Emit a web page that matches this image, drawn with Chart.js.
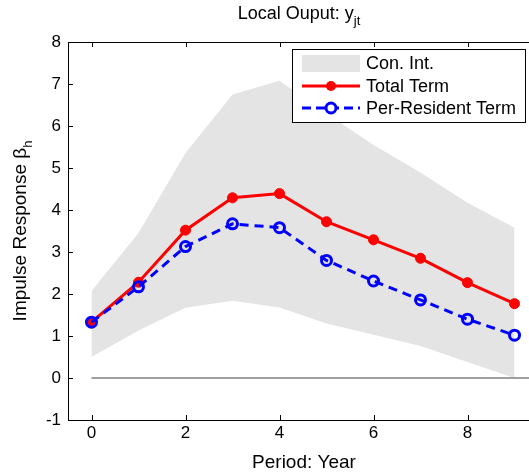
<!DOCTYPE html>
<html>
<head>
<meta charset="utf-8">
<script src="https://cdn.jsdelivr.net/npm/chart.js@4/dist/chart.umd.min.js"></script>
<style>
  html, body { margin: 0; padding: 0; background: #fff; overflow: hidden; }
  #wrap { width: 529px; height: 475px; overflow: hidden; }
  canvas { display: block; }
</style>
</head>
<body>
<div id="wrap"><canvas id="c" width="560" height="475"></canvas></div>
<script>
// Impulse response of local output, by period (years)
const periods = [0, 1, 2, 3, 4, 5, 6, 7, 8, 9];
const totalTerm = [1.33, 2.28, 3.52, 4.29, 4.39, 3.72, 3.29, 2.85, 2.27, 1.77];
const perResidentTerm = [1.33, 2.17, 3.13, 3.67, 3.58, 2.80, 2.31, 1.86, 1.40, 1.02];
const confUpper = [2.07, 3.45, 5.36, 6.75, 7.08, 6.30, 5.55, 4.89, 4.17, 3.58];
const confLower = [0.50, 1.13, 1.67, 1.84, 1.68, 1.30, 1.03, 0.76, 0.38, 0.00];
const xTicks = [0, 2, 4, 6, 8];
const yTicks = [-1, 0, 1, 2, 3, 4, 5, 6, 7, 8];
const legendLabels = ['Con. Int.', 'Total Term', 'Per-Resident Term'];

const FONT = '"Liberation Sans", Arial, sans-serif';
const pts = vals => periods.map((p, i) => ({ x: p, y: vals[i] }));

const bandColor = '#e4e4e4';
const red = '#ff0000';
const blue = '#0000ff';

// Inside tick marks, boxed frame, title, axis labels and legend
const decorations = {
  id: 'decorations',
  afterDraw(chart) {
    const ctx = chart.ctx;
    const a = chart.chartArea;
    const xs = chart.scales.x, ys = chart.scales.y;
    ctx.save();
    // frame
    ctx.strokeStyle = '#000';
    ctx.lineWidth = 1;
    ctx.strokeRect(Math.round(a.left) + 0.5, Math.round(a.top) + 0.5,
                   Math.round(a.right - a.left), Math.round(a.bottom - a.top));
    // inside ticks
    const tl = 5;
    ctx.beginPath();
    xTicks.forEach(v => {
      const px = Math.round(xs.getPixelForValue(v)) + 0.5;
      ctx.moveTo(px, a.bottom); ctx.lineTo(px, a.bottom - tl);
      ctx.moveTo(px, a.top); ctx.lineTo(px, a.top + tl);
    });
    yTicks.forEach(v => {
      const py = Math.round(ys.getPixelForValue(v)) + 0.5;
      ctx.moveTo(a.left, py); ctx.lineTo(a.left + tl, py);
      ctx.moveTo(a.right, py); ctx.lineTo(a.right - tl, py);
    });
    ctx.stroke();

    ctx.fillStyle = '#000';
    ctx.textBaseline = 'alphabetic';

    // title with subscript
    const tMain = 'Local Ouput: y', tSub = 'jt';
    ctx.font = '18px ' + FONT;
    const w1 = ctx.measureText(tMain).width;
    ctx.font = '13px ' + FONT;
    const w2 = ctx.measureText(tSub).width;
    const tx = 299 - (w1 + w2) / 2;
    ctx.font = '18px ' + FONT;
    ctx.textAlign = 'left';
    ctx.fillText(tMain, tx, 19);
    ctx.font = '13px ' + FONT;
    ctx.fillText(tSub, tx + w1, 25);

    // x axis label
    ctx.font = '19px ' + FONT;
    ctx.textAlign = 'center';
    ctx.fillText('Period: Year', 304, 468);

    // y axis label, rotated, with subscript
    const yMain = 'Impulse Response \u03B2', ySub = 'h';
    ctx.font = '19px ' + FONT;
    const yw1 = ctx.measureText(yMain).width;
    ctx.font = '13px ' + FONT;
    const yw2 = ctx.measureText(ySub).width;
    ctx.translate(25.5, 231);
    ctx.rotate(-Math.PI / 2);
    ctx.textAlign = 'left';
    const y0 = -(yw1 + yw2) / 2;
    ctx.font = '19px ' + FONT;
    ctx.fillText(yMain, y0, 0);
    ctx.font = '13px ' + FONT;
    ctx.fillText(ySub, y0 + yw1, 6);
    ctx.setTransform(1, 0, 0, 1, 0, 0);

    // legend
    const lx = 292, ly = 49, lw = 233, lh = 73;
    ctx.fillStyle = '#fff';
    ctx.fillRect(lx, ly, lw, lh);
    ctx.strokeStyle = '#000';
    ctx.lineWidth = 1;
    ctx.strokeRect(lx + 0.5, ly + 0.5, lw, lh);
    const sx0 = 302, sx1 = 360, mx = 331, textX = 366;
    const rows = [63, 86, 108];
    // band patch
    ctx.fillStyle = bandColor;
    ctx.fillRect(sx0, rows[0] - 8, sx1 - sx0, 17);
    // total term sample
    ctx.strokeStyle = red; ctx.lineWidth = 3;
    ctx.beginPath(); ctx.moveTo(sx0, rows[1]); ctx.lineTo(sx1, rows[1]); ctx.stroke();
    ctx.fillStyle = red;
    ctx.beginPath(); ctx.arc(mx, rows[1], 5, 0, Math.PI * 2); ctx.fill();
    // per-resident sample
    ctx.strokeStyle = blue; ctx.lineWidth = 3;
    ctx.setLineDash([9, 5]);
    ctx.beginPath(); ctx.moveTo(sx0, rows[2]); ctx.lineTo(sx1, rows[2]); ctx.stroke();
    ctx.setLineDash([]);
    ctx.fillStyle = '#fff';
    ctx.beginPath(); ctx.arc(mx, rows[2], 5, 0, Math.PI * 2); ctx.fill();
    ctx.beginPath(); ctx.arc(mx, rows[2], 5, 0, Math.PI * 2); ctx.stroke();
    // legend text
    ctx.fillStyle = '#000';
    ctx.font = '18px ' + FONT;
    ctx.textAlign = 'left';
    ctx.textBaseline = 'middle';
    legendLabels.forEach((t, i) => ctx.fillText(t, textX, rows[i] + 1));
    ctx.restore();
  }
};

new Chart(document.getElementById('c'), {
  type: 'line',
  data: {
    datasets: [
      { label: 'lower', data: pts(confLower), borderWidth: 0, pointRadius: 0,
        fill: false, order: 10, borderColor: 'rgba(0,0,0,0)' },
      { label: legendLabels[0], data: pts(confUpper), borderWidth: 0, pointRadius: 0,
        fill: '-1', backgroundColor: bandColor, borderColor: 'rgba(0,0,0,0)', order: 9 },
      { label: 'zero', data: [{ x: 0, y: 0 }, { x: 10, y: 0 }], borderColor: '#7f7f7f',
        borderWidth: 1.5, pointRadius: 0, fill: false, order: 5 },
      { label: legendLabels[1], data: pts(totalTerm), borderColor: red, borderWidth: 3,
        pointRadius: 5, pointBackgroundColor: red, pointBorderColor: red, pointBorderWidth: 1,
        fill: false, tension: 0, order: 2 },
      { label: legendLabels[2], data: pts(perResidentTerm), borderColor: blue, borderWidth: 3,
        borderDash: [9, 6], pointRadius: 5, pointBorderWidth: 3, pointBorderColor: blue,
        pointBackgroundColor: 'rgba(0,0,0,0)', fill: false, tension: 0, order: 1 }
    ]
  },
  options: {
    responsive: false,
    animation: false,
    devicePixelRatio: 1,
    layout: { padding: { left: 0, top: 42, right: 22, bottom: 0 } },
    plugins: { legend: { display: false }, title: { display: false }, tooltip: { enabled: false } },
    scales: {
      x: {
        type: 'linear', min: -0.5, max: 9.5,
        afterBuildTicks: s => { s.ticks = xTicks.map(v => ({ value: v })); },
        afterFit: s => { s.height = 55; },
        grid: { display: false, drawTicks: false },
        border: { display: false },
        ticks: { font: { family: FONT, size: 17 }, color: '#000', padding: 3, maxRotation: 0 }
      },
      y: {
        type: 'linear', min: -1, max: 8,
        afterBuildTicks: s => { s.ticks = yTicks.map(v => ({ value: v })); },
        afterFit: s => { s.width = 68; },
        grid: { display: false, drawTicks: false },
        border: { display: false },
        ticks: { font: { family: FONT, size: 17 }, color: '#000', padding: 7 }
      }
    }
  },
  plugins: [decorations]
});
</script>
</body>
</html>
